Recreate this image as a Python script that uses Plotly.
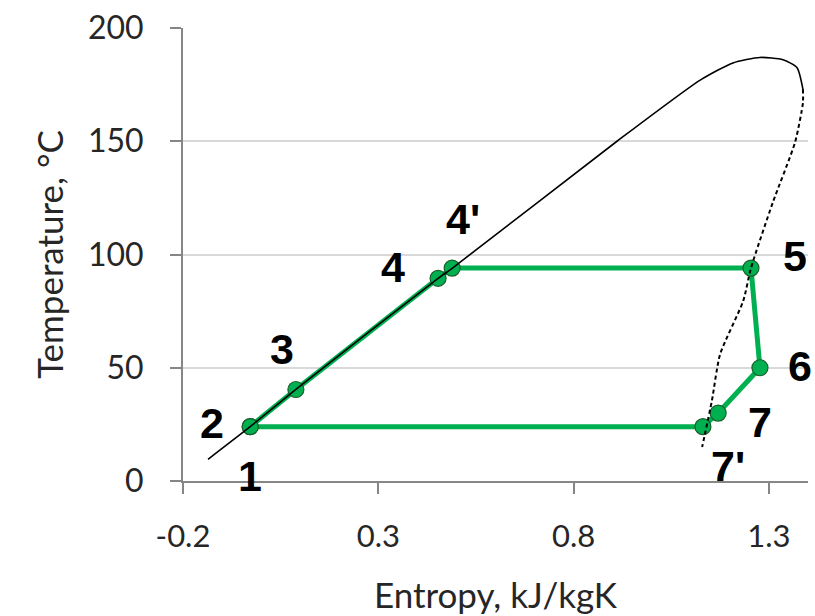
import plotly.graph_objects as go

# State points of the cycle
labels = ["1", "2", "3", "4", "4'", "5", "6", "7", "7'"]
s_pts = [-0.028, -0.028, 0.089, 0.453, 0.489, 1.254, 1.277, 1.170, 1.131]
T_pts = [24, 24, 40.4, 89.5, 94, 94, 50, 30, 24]

# Cycle path order (indices into state points)
cycle_order = [1, 2, 3, 4, 5, 6, 7, 8, 1]

# Saturation curve: liquid side (solid) and vapour side (dashed)
s_liq = [-0.136, -0.028, 0.089, 0.453, 0.489, 0.911, 1.124, 1.208, 1.277, 1.336, 1.372, 1.387]
T_liq = [9.6, 24, 40.4, 89.5, 93.9, 150, 177, 184.6, 187, 186, 182.5, 173]
s_vap = [1.387, 1.387, 1.367, 1.31, 1.254, 1.234, 1.175, 1.154, 1.129]
T_vap = [173, 167, 149.6, 123, 94, 79.4, 56, 35.5, 15]

# Label offsets in pixels (x, y)
label_shift = [(0, -49), (-38, 4), (-14, 40), (-45, 11), (11, 49), (44, 12), (40, 2), (42, -9), (25, -39)]

x_ticks = [-0.2, 0.3, 0.8, 1.3]
y_ticks = [0, 50, 100, 150, 200]

green = "#00b050"

fig = go.Figure()
fig.add_trace(go.Scatter(
    x=[s_pts[i] for i in cycle_order], y=[T_pts[i] for i in cycle_order],
    mode="lines+markers",
    line=dict(color=green, width=5),
    marker=dict(size=16, color=green, line=dict(color="#1a5e2a", width=1.2)),
    showlegend=False, hoverinfo="skip"))
fig.add_trace(go.Scatter(
    x=s_liq, y=T_liq, mode="lines",
    line=dict(color="black", width=1.6, shape="spline", smoothing=0.6),
    showlegend=False))
fig.add_trace(go.Scatter(
    x=s_vap, y=T_vap, mode="lines",
    line=dict(color="black", width=2, dash="4px,3px", shape="spline", smoothing=0.6),
    showlegend=False))

for lab, s, T, (dx, dy) in zip(labels, s_pts, T_pts, label_shift):
    fig.add_annotation(x=s, y=T, text="<b>" + lab + "</b>", showarrow=False, xshift=dx, yshift=dy,
                       font=dict(family="Liberation Sans", size=43, color="black"))

fig.update_layout(
    width=815, height=616,
    margin=dict(l=183, r=7, t=25, b=135),
    plot_bgcolor="white", paper_bgcolor="white",
    font=dict(family="Lato", color="#262626"),
)
fig.update_xaxes(
    range=[-0.2, 1.4], tickvals=x_ticks, ticktext=[str(v) for v in x_ticks],
    showgrid=False, zeroline=False,
    showline=True, linecolor="#868686", linewidth=2,
    ticks="outside", ticklen=11, tickcolor="#868686", tickwidth=2,
    tickfont=dict(size=31, family="Lato", color="#262626"),
    ticklabelstandoff=16,
    title=dict(text="Entropy, kJ/kgK", font=dict(size=35, family="Lato", color="#262626"), standoff=30),
)
fig.update_yaxes(
    range=[0, 200], tickvals=y_ticks,
    showgrid=True, gridcolor="#d9d9d9", gridwidth=2, zeroline=False,
    showline=True, linecolor="#868686", linewidth=2,
    ticks="outside", ticklen=11, tickcolor="#868686", tickwidth=2,
    tickfont=dict(size=32, family="Lato", color="#262626"),
    ticklabelstandoff=20,
    title=dict(text="Temperature, °C", font=dict(size=35, family="Lato", color="#262626"), standoff=14),
)

fig.write_html("out.html")
